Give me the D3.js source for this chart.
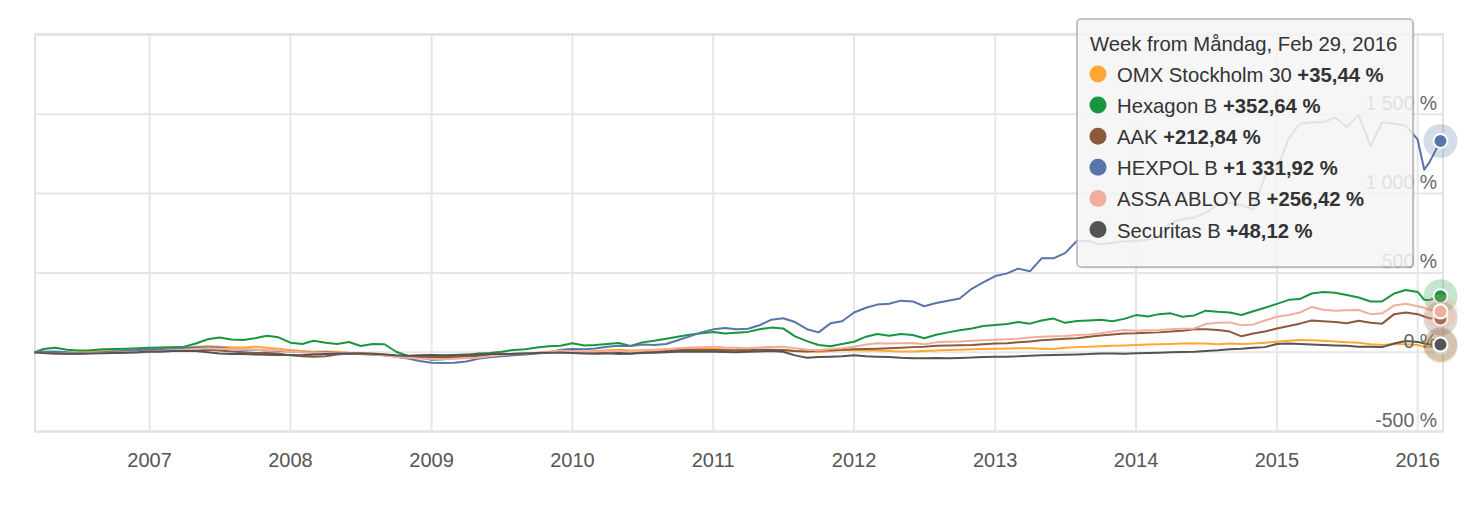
<!DOCTYPE html>
<html><head><meta charset="utf-8">
<script src="https://cdn.jsdelivr.net/npm/d3@7"></script>
<style>html,body{margin:0;padding:0;background:#fff;}svg{display:block;font-family:"Liberation Sans",Arial,Helvetica,sans-serif;}</style>
</head><body><div id="chart"></div>
<script>
const dates = [
"2006-03-10","2006-04-01","2006-05-01","2006-06-01","2006-07-01","2006-08-01","2006-09-01","2006-10-01","2006-11-01","2006-12-01",
"2007-01-01","2007-02-01","2007-03-01","2007-04-01","2007-05-01","2007-06-01","2007-07-01","2007-08-01","2007-09-01","2007-10-01","2007-11-01","2007-12-01",
"2008-01-01","2008-02-01","2008-03-01","2008-04-01","2008-05-01","2008-06-01","2008-07-01","2008-08-01","2008-09-01","2008-10-01","2008-11-01","2008-12-01",
"2009-01-01","2009-02-01","2009-03-01","2009-04-01","2009-05-01","2009-06-01","2009-07-01","2009-08-01","2009-09-01","2009-10-01","2009-11-01","2009-12-01",
"2010-01-01","2010-02-01","2010-03-01","2010-04-01","2010-05-01","2010-06-01","2010-07-01","2010-08-01","2010-09-01","2010-10-01","2010-11-01","2010-12-01",
"2011-01-01","2011-02-01","2011-03-01","2011-04-01","2011-05-01","2011-06-01","2011-07-01","2011-08-01","2011-09-01","2011-10-01","2011-11-01","2011-12-01",
"2012-01-01","2012-02-01","2012-03-01","2012-04-01","2012-05-01","2012-06-01","2012-07-01","2012-08-01","2012-09-01","2012-10-01","2012-11-01","2012-12-01",
"2013-01-01","2013-02-01","2013-03-01","2013-04-01","2013-05-01","2013-06-01","2013-07-01","2013-08-01","2013-09-01","2013-10-01","2013-11-01","2013-12-01",
"2014-01-01","2014-02-01","2014-03-01","2014-04-01","2014-05-01","2014-06-01","2014-07-01","2014-08-01","2014-09-01","2014-10-01","2014-11-01","2014-12-01",
"2015-01-01","2015-02-01","2015-03-01","2015-04-01","2015-05-01","2015-06-01","2015-07-01","2015-08-01","2015-09-01","2015-10-01","2015-11-01","2015-12-01",
"2016-01-01","2016-01-18","2016-02-01","2016-02-29"];

const omx = [
0,5,-5,-3,0,5,10,12,15,18,
25,28,30,32,35,38,35,32,30,35,28,22,
14,8,3,5,3,-3,-5,-8,-15,-24,-28,-30,
-32,-33,-30,-28,-22,-20,-15,-10,-8,-5,0,2,
5,3,8,12,15,10,12,15,18,20,18,20,
20,18,17,18,16,14,12,8,5,2,8,12,
14,10,10,8,5,5,8,10,14,16,18,20,
22,24,25,25,22,20,28,32,35,38,40,42,
45,48,50,52,55,56,55,50,55,52,55,60,
66,72,77,75,72,68,62,60,50,45,52,50,
45,35,35,35.44];

const hexagon = [
0,20,28,15,10,12,18,20,22,25,
28,30,32,35,55,82,92,80,77,88,104,94,
60,52,72,60,52,64,39,52,50,3,-24,-32,
-48,-45,-32,-20,-8,-5,3,14,18,30,38,41,
56,42,45,52,58,40,62,72,85,97,110,120,
128,118,122,128,145,155,150,100,70,45,38,52,
66,98,115,104,115,108,88,110,125,138,150,165,
172,178,190,180,200,212,185,196,200,205,195,210,
234,225,240,245,224,232,262,255,250,235,258,280,
305,330,335,370,380,375,360,345,320,320,370,392,
380,330,329,352.64];

const aak = [
0,-3,-8,-10,-8,-5,-5,-3,0,0,
2,5,8,10,12,15,10,5,0,-5,-5,-8,
-20,-25,-28,-25,-15,-8,-10,-15,-20,-25,-28,-30,
-30,-30,-28,-25,-22,-20,-15,-10,-8,-5,0,3,
3,0,-3,-5,-12,-10,0,5,8,12,15,14,
14,12,10,12,15,16,14,8,5,10,12,15,
18,20,22,25,28,32,35,40,42,44,45,50,
55,56,62,68,75,80,85,88,98,105,112,118,
119,122,125,130,135,144,145,140,130,100,118,130,
150,165,180,200,195,190,182,198,185,180,240,250,
240,225,214,212.84];

const hexpol = [
0,3,5,0,-8,-5,0,5,8,12,
15,18,20,25,30,32,30,20,15,15,10,8,
5,0,-3,0,-5,-8,-12,-15,-18,-28,-40,-55,
-66,-68,-66,-58,-42,-32,-26,-20,-14,-8,-2,15,
20,18,24,35,40,39,48,45,52,75,100,125,
144,152,145,148,170,205,214,190,145,125,182,195,
250,280,300,305,325,320,290,310,325,338,400,440,
480,497,527,510,592,592,625,703,700,680,690,700,
700,710,730,815,840,850,880,930,940,930,900,1110,
1150,1350,1440,1450,1450,1480,1420,1495,1300,1450,1440,1430,
1340,1150,1200,1331.92];

const assa = [
0,-5,-10,-8,-8,-5,-5,-3,0,2,
5,8,12,15,20,25,22,20,18,15,10,12,
5,0,-3,-5,-8,-10,-12,-15,-20,-30,-35,-40,
-43,-45,-42,-38,-35,-25,-18,-12,-8,-3,5,10,
5,3,5,8,6,5,10,12,18,25,30,32,
35,30,28,25,30,33,35,25,15,12,20,25,
35,48,56,55,56,58,50,62,66,68,72,75,
78,81,85,92,98,100,102,108,112,120,130,140,
135,138,140,145,148,150,178,185,188,170,175,200,
224,235,250,285,268,262,264,266,240,245,295,305,
290,280,266,256.42];

const securitas = [
0,-5,-8,-10,-10,-8,-7,-5,-3,0,
5,5,8,8,8,0,-8,-11,-12,-14,-16,-18,
-18,-20,-15,-12,-10,-10,-8,-10,-15,-20,-22,-20,
-18,-20,-18,-15,-15,-12,-10,-12,-8,-5,-3,-3,
-5,-8,-10,-8,-5,-8,-5,-3,0,3,5,3,
3,2,0,3,5,8,3,-20,-35,-30,-28,-25,
-20,-25,-28,-30,-35,-38,-38,-36,-38,-36,-34,-30,
-28,-28,-26,-22,-20,-18,-16,-14,-12,-8,-8,-10,
-7,-5,-3,0,2,3,8,12,18,22,28,32,
52,55,52,48,45,42,40,35,35,32,55,70,
65,55,50,48.12];

const seriesNames = ["OMX Stockholm 30","Hexagon B","AAK","HEXPOL B","ASSA ABLOY B","Securitas B"];
const seriesColors = ["#ffa733","#17963f","#8b5a3c","#5874a8","#f2ad9c","#545454"];
const yTicks = [-500,0,500,1000,1500,2000];
const yLabelTicks = [-500,0,500,1000,1500];
const xTickYears = [2007,2008,2009,2010,2011,2012,2013,2014,2015,2016];
const tooltipTitle = "Week from Måndag, Feb 29, 2016";

const seriesValues = [omx,hexagon,aak,hexpol,assa,securitas];
const parse = d3.timeParse("%Y-%m-%d");
const dateObjs = dates.map(parse);
const series = seriesNames.map((n,i)=>({name:n,color:seriesColors[i],
  points:dateObjs.map((d,j)=>({date:d,value:seriesValues[i][j]}))}));

const W=1474,H=508;
const L=35,R=1443,T=35,B=431.5;
const x = d3.scaleTime().domain([parse("2006-03-10"),parse("2016-03-04")]).range([L,1442]);
const y = d3.scaleLinear().domain([-500,2000]).range([B,T]);
const loc = d3.formatLocale({decimal:",",thousands:" ",grouping:[3],currency:["","kr"],minus:"-"});
const fmtTick = loc.format(",d");
const fmtVal = loc.format("+,.2f");

const svg = d3.select("#chart").append("svg").attr("width",W).attr("height",H);
svg.append("rect").attr("width",W).attr("height",H).attr("fill","#fff");

const grid = svg.append("g").attr("stroke","#e6e6e6").attr("stroke-width",2);
grid.selectAll("line.h").data(yTicks).join("line").attr("class","h")
  .attr("x1",L).attr("x2",R).attr("y1",d=>y(d)).attr("y2",d=>y(d));
grid.selectAll("line.v").data(xTickYears).join("line").attr("class","v")
  .attr("x1",d=>x(new Date(d,0,1))).attr("x2",d=>x(new Date(d,0,1))).attr("y1",T).attr("y2",B);
svg.append("rect").attr("x",L).attr("y",T-1).attr("width",R-L).attr("height",B-T+1)
  .attr("fill","none").attr("stroke","#e3e3e3").attr("stroke-width",2);

const line = d3.line().x(d=>x(d.date)).y(d=>y(d.value)).curve(d3.curveLinear);
svg.append("g").selectAll("path").data(series).join("path")
  .attr("d",d=>line(d.points)).attr("fill","none").attr("stroke",d=>d.color)
  .attr("stroke-width",2).attr("stroke-linejoin","round").attr("stroke-linecap","round");

// y-axis labels (inside plot, right aligned)
svg.append("g").selectAll("text").data(yLabelTicks).join("text")
  .attr("x",1437).attr("y",d=>y(d)-4.5).attr("text-anchor","end")
  .attr("font-size",19.5).attr("fill","#666").text(d=>fmtTick(d)+" %");

// x-axis labels
svg.append("g").selectAll("text").data(xTickYears).join("text")
  .attr("x",d=>x(new Date(d,0,1))).attr("y",467).attr("text-anchor","middle")
  .attr("font-size",20).attr("fill","#555").text(d=>d);

// hover markers at last point
const mk = svg.append("g");
series.forEach(s=>{
  const p = s.points[s.points.length-1];
  mk.append("circle").attr("cx",x(p.date)).attr("cy",y(p.value)).attr("r",17)
    .attr("fill",s.color).attr("fill-opacity",0.25);
  mk.append("circle").attr("cx",x(p.date)).attr("cy",y(p.value)).attr("r",7)
    .attr("fill",s.color).attr("stroke","#fff").attr("stroke-width",2);
});

// tooltip
const tip = svg.append("g");
tip.append("rect").attr("x",1079).attr("y",21).attr("width",336).attr("height",248).attr("rx",4)
  .attr("fill","#000").attr("fill-opacity",0.06);
tip.append("rect").attr("x",1077).attr("y",19).attr("width",336).attr("height",248).attr("rx",4)
  .attr("fill","rgb(247,247,247)").attr("fill-opacity",0.85).attr("stroke","#b0b0b0").attr("stroke-width",1.5);
tip.append("text").attr("x",1090).attr("y",51).attr("font-size",20.3).attr("fill","#333").text(tooltipTitle);
series.forEach((s,i)=>{
  const by = 82 + i*31.1;
  const p = s.points[s.points.length-1];
  tip.append("circle").attr("cx",1098).attr("cy",by-8).attr("r",8.5).attr("fill",s.color);
  const t = tip.append("text").attr("x",1117).attr("y",by).attr("font-size",20.3).attr("fill","#333");
  t.append("tspan").text(s.name+" ");
  t.append("tspan").attr("font-weight","bold").text(fmtVal(p.value)+" %");
});
</script></body></html>
